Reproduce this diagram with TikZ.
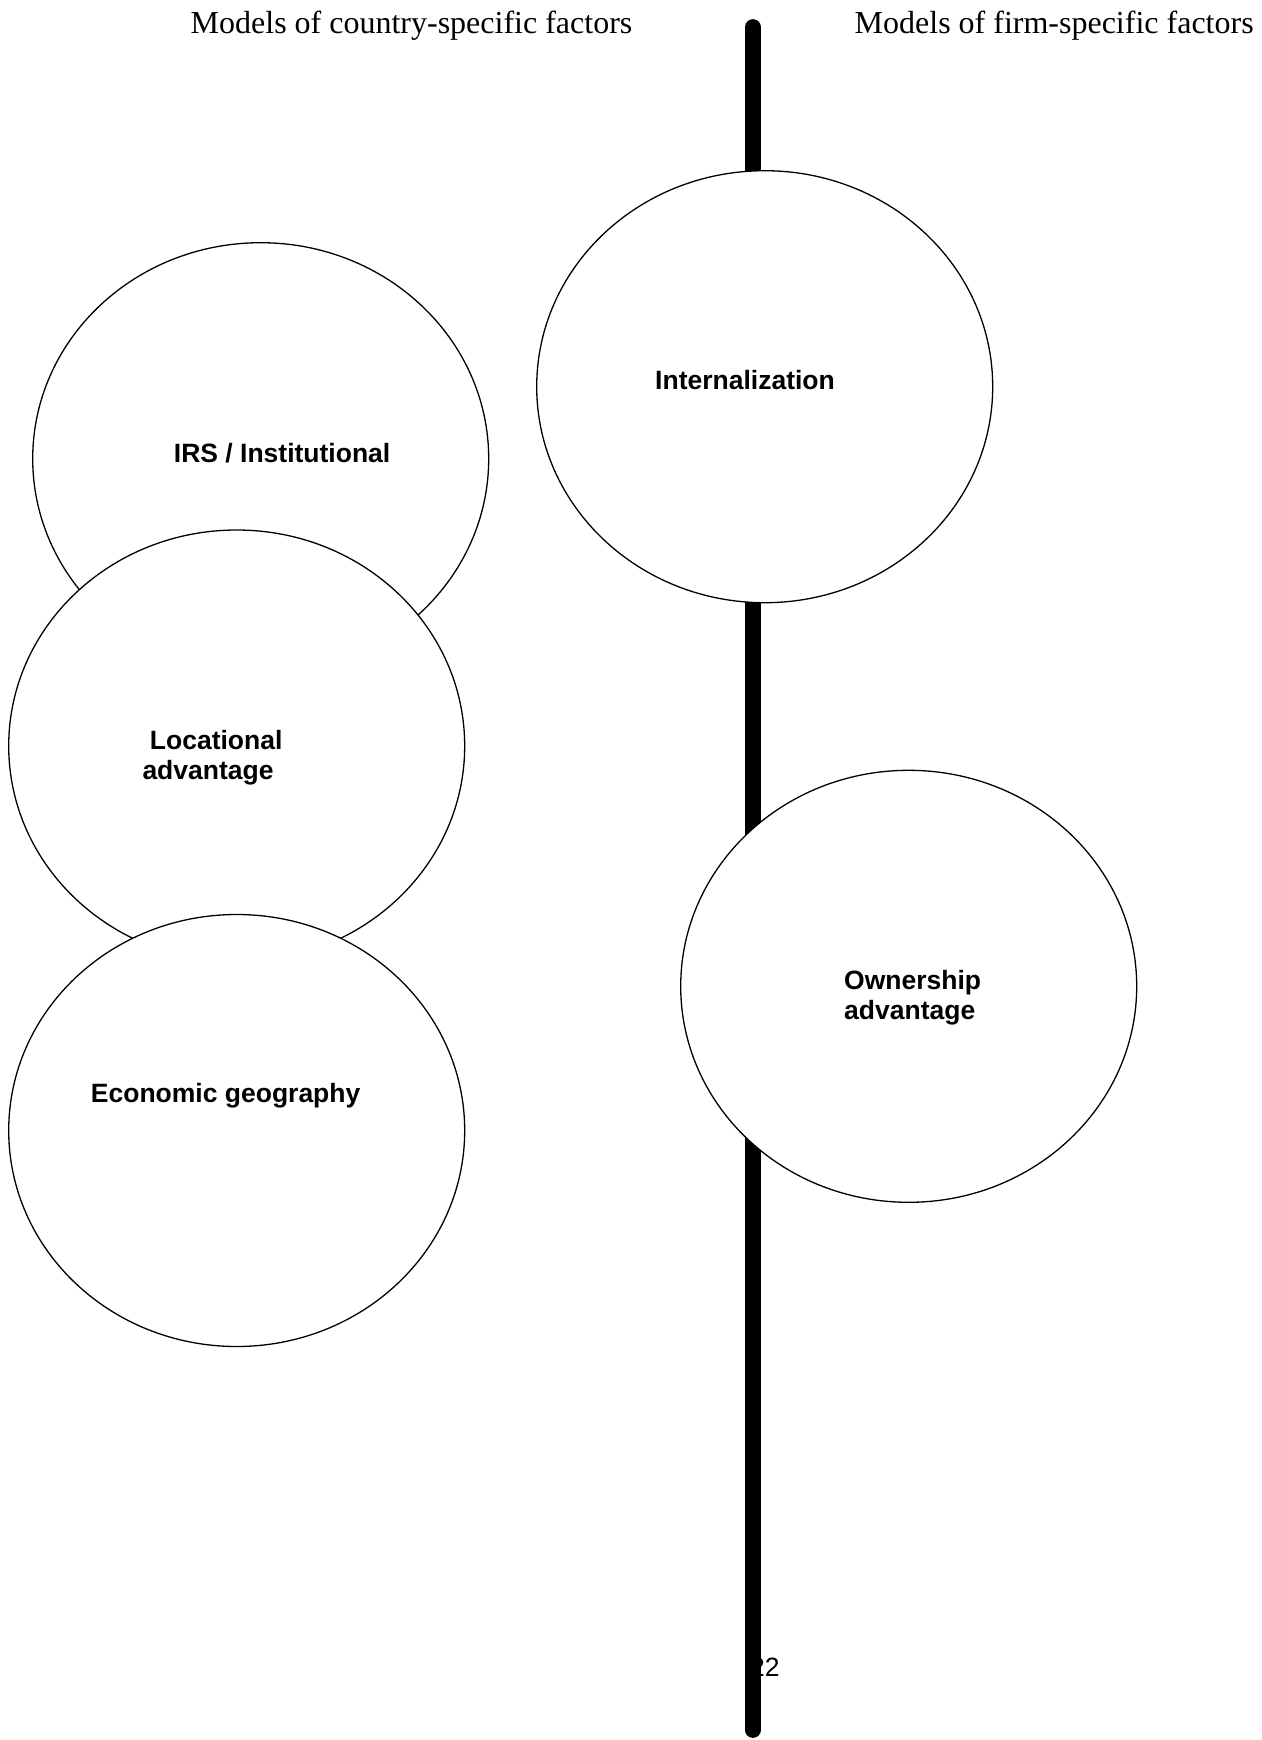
\documentclass[tikz,border=0pt]{standalone}
\usepackage{fontspec}
\setmainfont{Liberation Serif}
\newfontfamily\arialfont{Liberation Sans}
\usetikzlibrary{shapes.geometric}
\begin{document}
\begin{tikzpicture}[x=1pt,y=-1pt,
  bubble/.style={draw=black, fill=white, ellipse, line width=1.3pt, inner sep=0pt,
    minimum width=456pt, minimum height=432pt},
  lbl/.style={anchor=base west, inner sep=0pt, font=\arialfont\bfseries\fontsize{26.5}{30}\selectfont},
  ttl/.style={anchor=base west, inner sep=0pt, font=\fontsize{32}{36}\selectfont},
  spine/.style={line width=15.7pt, line cap=round, draw=black}]
\useasboundingbox (0,0) rectangle (1261,1740);
% titles
\node[ttl] (tleft) at (190.5,33.3) {Models of country-specific factors};
\node[ttl] (tright) at (854.5,33.3) {Models of firm-specific factors};
% page number behind the spine
\node[anchor=base west, inner sep=0pt, font=\arialfont\fontsize{26.5}{30}\selectfont] (pnum) at (750,1676) {22};
% spine
\coordinate (ltop) at (752.8,27);
\coordinate (lbot) at (752.8,1730);
\draw[spine] (ltop) -- (lbot);
% left column
\node[bubble] (irs) at (260.7,458.7) {};
\node[lbl] (irsT) at (173.7,462.3) {IRS / Institutional};
\node[bubble] (loc) at (236.7,746) {};
\node[lbl] (locA) at (149.7,749) {Locational};
\node[lbl] (locB) at (142.3,779.3) {advantage};
\node[bubble] (eco) at (236.7,1130.5) {};
\node[lbl] (ecoT) at (90.7,1102.7) {Economic geography};
% right column
\node[bubble] (int) at (764.7,386.7) {};
\node[lbl] (intT) at (655,389) {Internalization};
\node[bubble] (own) at (908.7,986.3) {};
\node[lbl] (ownA) at (844,989.3) {Ownership};
\node[lbl] (ownB) at (844,1019.3) {advantage};
\end{tikzpicture}
\end{document}
